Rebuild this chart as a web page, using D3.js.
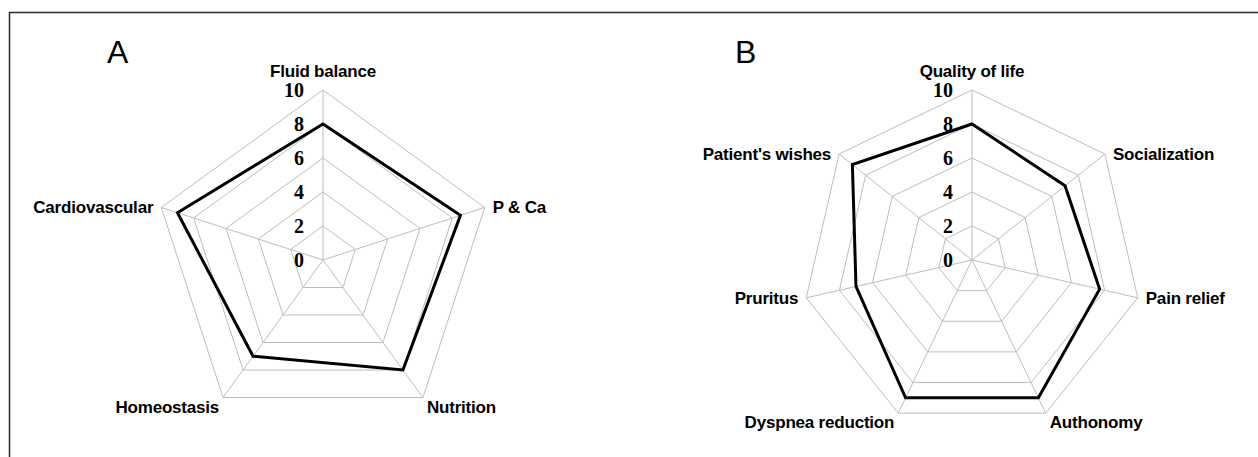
<!DOCTYPE html>
<html><head><meta charset="utf-8">
<script src="https://cdn.jsdelivr.net/npm/d3@7"></script>
<style>
html,body{margin:0;padding:0;background:#fff;}
svg{display:block;}
</style></head>
<body>
<svg id="chart" width="1258" height="457"></svg>
<script>
const categoriesA = ["Fluid balance", "P & Ca", "Nutrition", "Homeostasis", "Cardiovascular"];
const valuesA = [8, 8.5, 8, 7, 9];
const categoriesB = ["Quality of life", "Socialization", "Pain relief", "Authonomy", "Dyspnea reduction", "Pruritus", "Patient's wishes"];
const valuesB = [8, 7, 7.7, 9, 9, 7, 9];
const tickValues = [0, 2, 4, 6, 8, 10];
const panelLetters = ["A", "B"];

const svg = d3.select("#chart");
// outer frame (only top and left edges visible)
svg.append("path").attr("d", "M9.5,460 L9.5,12.5 L1260,12.5")
  .attr("fill", "none").attr("stroke", "#2a2a2a").attr("stroke-width", 1.5);

const R = 170;
const r = d3.scaleLinear().domain([0, 10]).range([0, R]);

function radar(cx, cy, cats, vals, letter, letterX) {
  const n = cats.length;
  const ang = d3.scaleLinear().domain([0, n]).range([0, 2 * Math.PI]);
  const g = svg.append("g").attr("transform", `translate(${cx},${cy})`);
  const ring = d3.lineRadial().angle((d, i) => ang(i)).radius(d => r(d)).curve(d3.curveLinearClosed);
  tickValues.filter(t => t > 0).forEach(t => {
    g.append("path").attr("d", ring(d3.range(n).map(() => t)))
      .attr("fill", "none").attr("stroke", "#bdbdbd").attr("stroke-width", 1);
  });
  cats.forEach((c, i) => {
    const a = ang(i);
    g.append("line").attr("x1", 0).attr("y1", 0)
      .attr("x2", r(10) * Math.sin(a)).attr("y2", -r(10) * Math.cos(a))
      .attr("stroke", "#bdbdbd").attr("stroke-width", 1);
  });
  g.append("path").attr("d", ring(vals))
    .attr("fill", "none").attr("stroke", "#000").attr("stroke-width", 3).attr("stroke-linejoin", "miter");
  // tick labels
  g.selectAll("text.tick").data(tickValues).enter().append("text")
    .attr("x", -19).attr("y", d => -r(d) + 7)
    .attr("text-anchor", "end")
    .style("font-family", "'Liberation Serif', serif").style("font-weight", "bold").style("font-size", "20px")
    .text(d => d);
  // category labels
  cats.forEach((c, i) => {
    const a = ang(i);
    const sx = Math.sin(a), cy2 = -Math.cos(a);
    const vx = r(10) * sx, vy = r(10) * cy2;
    let x, y, anchor;
    if (Math.abs(sx) < 0.05) { x = vx; y = vy - 13; anchor = "middle"; }
    else {
      const bottom = cy2 > 0.5;
      x = vx + Math.sign(sx) * (bottom ? 4 : 8);
      y = vy + (bottom ? 9 : 0) + 6;
      anchor = sx > 0 ? "start" : "end";
    }
    g.append("text").attr("x", x).attr("y", y).attr("text-anchor", anchor)
      .style("font-family", "'Liberation Sans', Arial, sans-serif").style("font-weight", "bold")
      .style("font-size", "17px").style("letter-spacing", "-0.2px").text(c);
  });
  svg.append("text").attr("x", letterX).attr("y", 63)
    .style("font-family", "'Liberation Sans', Arial, sans-serif").style("font-size", "32px")
    .text(letter);
}

radar(323, 260, categoriesA, valuesA, panelLetters[0], 107);
radar(972, 260, categoriesB, valuesB, panelLetters[1], 735);
</script>
</body></html>
